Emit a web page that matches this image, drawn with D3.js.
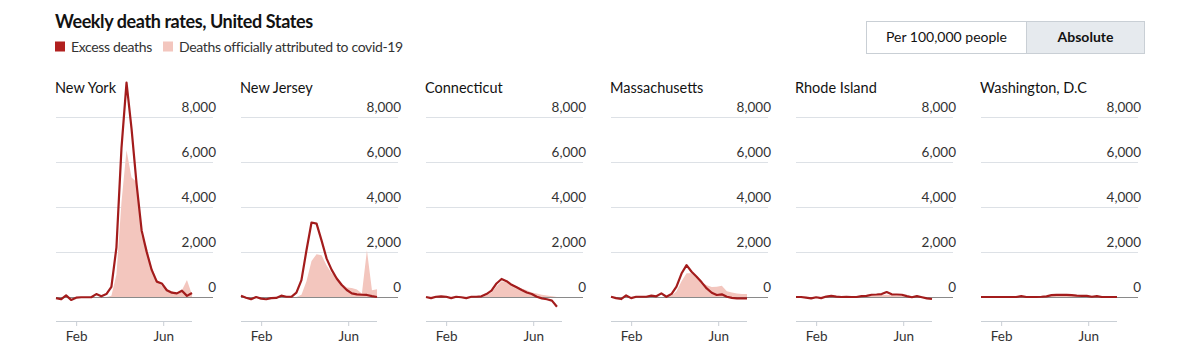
<!DOCTYPE html>
<html>
<head>
<meta charset="utf-8">
<script src="https://cdn.jsdelivr.net/npm/d3@7"></script>
<style>
  body { margin: 0; background: #fff; }
  svg { font-family: Lato, "Open Sans", sans-serif; }
</style>
</head>
<body>
<svg id="drawing_region"></svg>
<script>
// weeks ending Saturday, Jan 4 – Jul 11 2020
const weeks = d3.timeDays(new Date(2020, 0, 4), new Date(2020, 6, 12), 7);

const states = ['New York', 'New Jersey', 'Connecticut', 'Massachusetts', 'Rhode Island', 'Washington, D.C'];

const excess_ny = [-50, -100, 70, -130, -30, -10, -10, -10, 130, 30, 130, 450, 2200, 6600, 9500, 7450, 5000, 2950, 2000, 1200, 680, 600, 300, 190, 160, 280, 50, 180];
const covid_ny  = [0, 0, 0, 0, 0, 0, 0, 0, 0, 0, 0, 50, 1000, 4200, 6500, 5300, 5100, 2700, 2200, 1300, 800, 500, 350, 250, 150, 300, 750, 100];

const excess_nj = [60, -30, -100, 0, -70, -100, -50, -40, 60, 10, 10, 190, 750, 2070, 3300, 3250, 2500, 1700, 1200, 820, 530, 310, 160, 120, 100, 90, 40, 0];
const covid_nj  = [0, 0, 0, 0, 0, 0, 0, 0, 0, 0, 0, 0, 100, 700, 1600, 1900, 1850, 1400, 1050, 850, 600, 420, 400, 330, 150, 2070, 300, 340];

const excess_ct = [0, -50, 10, 30, 10, -50, 10, -10, -50, 10, 10, 30, 130, 280, 600, 800, 700, 540, 430, 310, 200, 130, 10, -60, -100, -160, -430, null];
const covid_ct  = [0, 0, 0, 0, 0, 0, 0, 0, 0, 0, 0, 0, 80, 200, 480, 700, 650, 560, 470, 380, 300, 200, 150, 100, 70, 30, 0, null];

const excess_ma = [10, -50, -90, 70, -50, 10, 10, 10, 60, 30, 160, 10, 130, 460, 1040, 1410, 1120, 900, 650, 380, 190, 90, 120, 10, -40, -60, -60, -60];
const covid_ma  = [0, 0, 0, 0, 0, 0, 0, 0, 0, 0, 0, 0, 50, 250, 700, 1050, 1050, 850, 650, 520, 440, 450, 500, 250, 200, 150, 130, 130];

const excess_ri = [0, 0, -30, -60, -10, -50, 20, 50, 20, 0, 10, 0, 0, 40, 50, 100, 110, 130, 220, 120, 110, 100, 40, -10, 40, -10, -60, -90];
const covid_ri  = [0, 0, 0, 0, 0, 0, 0, 0, 0, 0, 0, 0, 10, 30, 50, 70, 80, 90, 100, 80, 60, 40, 30, 20, 10, 10, 5, 5];

const excess_dc = [0, 0, 0, 0, 0, 0, 0, 0, 40, 0, 0, 0, 10, 30, 80, 90, 90, 90, 80, 60, 50, 50, 10, 40, 0, 0, 0, 0];
const covid_dc  = [0, 0, 0, 0, 0, 0, 0, 0, 0, 0, 0, 0, 10, 30, 60, 70, 70, 60, 50, 40, 30, 20, 10, 10, 5, 5, 0, 0];

const excess = [excess_ny, excess_nj, excess_ct, excess_ma, excess_ri, excess_dc];
const covid = [covid_ny, covid_nj, covid_ct, covid_ma, covid_ri, covid_dc];

const y_ticks = [0, 2000, 4000, 6000, 8000];
const x_ticks = [new Date(2020, 1, 1), new Date(2020, 5, 1)];

const config = {
    width: 1200,
    height: 354,
    panel_left: 56,
    panel_step: 185,
    grid_width: 157,
    plot_width: 136,
    zero_y: 297,
    top_y: 116.5,
    axis_y: 321,
    line_color: '#a31c1c',
    area_color: '#f3c6be',
    legend_dark: '#b1201f',
    grid_color: '#dde1e6'
};

const svg = d3.select('#drawing_region')
    .attr('width', config.width)
    .attr('height', config.height);

// title + legend
svg.append('text')
    .attr('x', 55).attr('y', 28)
    .style('font-size', '18px')
    .style('font-weight', 'bold')
    .style('letter-spacing', '-0.4px')
    .attr('fill', '#121212')
    .text('Weekly death rates, United States');

const legend = [
    {label: 'Excess deaths', color: config.legend_dark, x: 55},
    {label: 'Deaths officially attributed to covid-19', color: config.area_color, x: 163}
];
legend.forEach(l => {
    svg.append('rect')
        .attr('x', l.x).attr('y', 41.5)
        .attr('width', 10).attr('height', 10)
        .attr('fill', l.color);
    svg.append('text')
        .attr('x', l.x + 16).attr('y', 51.5)
        .style('font-size', '14px')
        .style('letter-spacing', '-0.35px')
        .attr('fill', '#333')
        .text(l.label);
});

// toggle buttons
const btn = svg.append('g');
btn.append('rect')
    .attr('x', 866.5).attr('y', 21.5)
    .attr('width', 160).attr('height', 32)
    .attr('fill', '#fff').attr('stroke', '#c9cfd5');
btn.append('rect')
    .attr('x', 1026.5).attr('y', 21.5)
    .attr('width', 118).attr('height', 32)
    .attr('fill', '#e6eaee').attr('stroke', '#c9cfd5');
btn.append('text')
    .attr('x', 946.5).attr('y', 42)
    .attr('text-anchor', 'middle')
    .style('font-size', '14px')
    .attr('fill', '#121212')
    .text('Per 100,000 people');
btn.append('text')
    .attr('x', 1085.5).attr('y', 42)
    .attr('text-anchor', 'middle')
    .style('font-size', '14px')
    .style('font-weight', 'bold')
    .attr('fill', '#121212')
    .text('Absolute');

const x = d3.scaleTime()
    .domain(d3.extent(weeks))
    .range([0, config.plot_width]);

const y = d3.scaleLinear()
    .domain([0, 8000])
    .range([config.zero_y, config.top_y]);

const area = d3.area()
    .defined(d => d.v !== null)
    .x(d => x(d.date))
    .y0(y(0))
    .y1(d => y(d.v));

const line = d3.line()
    .defined(d => d.v !== null)
    .x(d => x(d.date))
    .y(d => y(d.v));

states.forEach((name, i) => {
    const g = svg.append('g')
        .attr('transform', `translate(${config.panel_left + i * config.panel_step}, 0)`);

    g.append('text')
        .attr('x', -1).attr('y', 93)
        .style('font-size', '14.5px')
        .attr('fill', '#121212')
        .text(name);

    // gridlines
    g.selectAll('.grid')
        .data(y_ticks.filter(t => t !== 0))
        .join('line')
        .attr('x1', 0).attr('x2', config.grid_width)
        .attr('y1', d => Math.round(y(d)) + 0.5)
        .attr('y2', d => Math.round(y(d)) + 0.5)
        .attr('stroke', config.grid_color);

    g.selectAll('.ylab')
        .data(y_ticks)
        .join('text')
        .attr('x', config.grid_width + 3)
        .attr('y', d => y(d) - 5)
        .attr('text-anchor', 'end')
        .style('font-size', '13.5px')
        .attr('fill', '#333')
        .text(d => d3.format(',')(d));

    const cv = weeks.map((d, k) => ({date: d, v: covid[i][k]}));
    const ex = weeks.map((d, k) => ({date: d, v: excess[i][k]}));

    g.append('path')
        .datum(cv)
        .attr('d', area)
        .attr('fill', config.area_color);

    // zero line
    g.append('line')
        .attr('x1', 0).attr('x2', config.grid_width)
        .attr('y1', y(0) + 0.5).attr('y2', y(0) + 0.5)
        .attr('stroke', '#8a8a8a');

    g.append('path')
        .datum(ex)
        .attr('d', line)
        .attr('fill', 'none')
        .attr('stroke', config.line_color)
        .attr('stroke-width', 2.2)
        .attr('stroke-linejoin', 'round');

    // x axis
    const xa = g.append('g')
        .attr('transform', `translate(0, ${config.axis_y})`)
        .call(d3.axisBottom(x)
            .tickValues(x_ticks)
            .tickFormat(d3.timeFormat('%b'))
            .tickSize(5)
            .tickPadding(5));
    xa.select('.domain').attr('stroke', '#c9cfd5').attr('d', `M0,0.5H${config.plot_width}`);
    xa.selectAll('.tick line').attr('stroke', '#c9cfd5');
    xa.selectAll('.tick text')
        .style('font-family', 'Lato, sans-serif')
        .style('font-size', '13.5px')
        .attr('fill', '#333');
});
</script>
</body>
</html>
